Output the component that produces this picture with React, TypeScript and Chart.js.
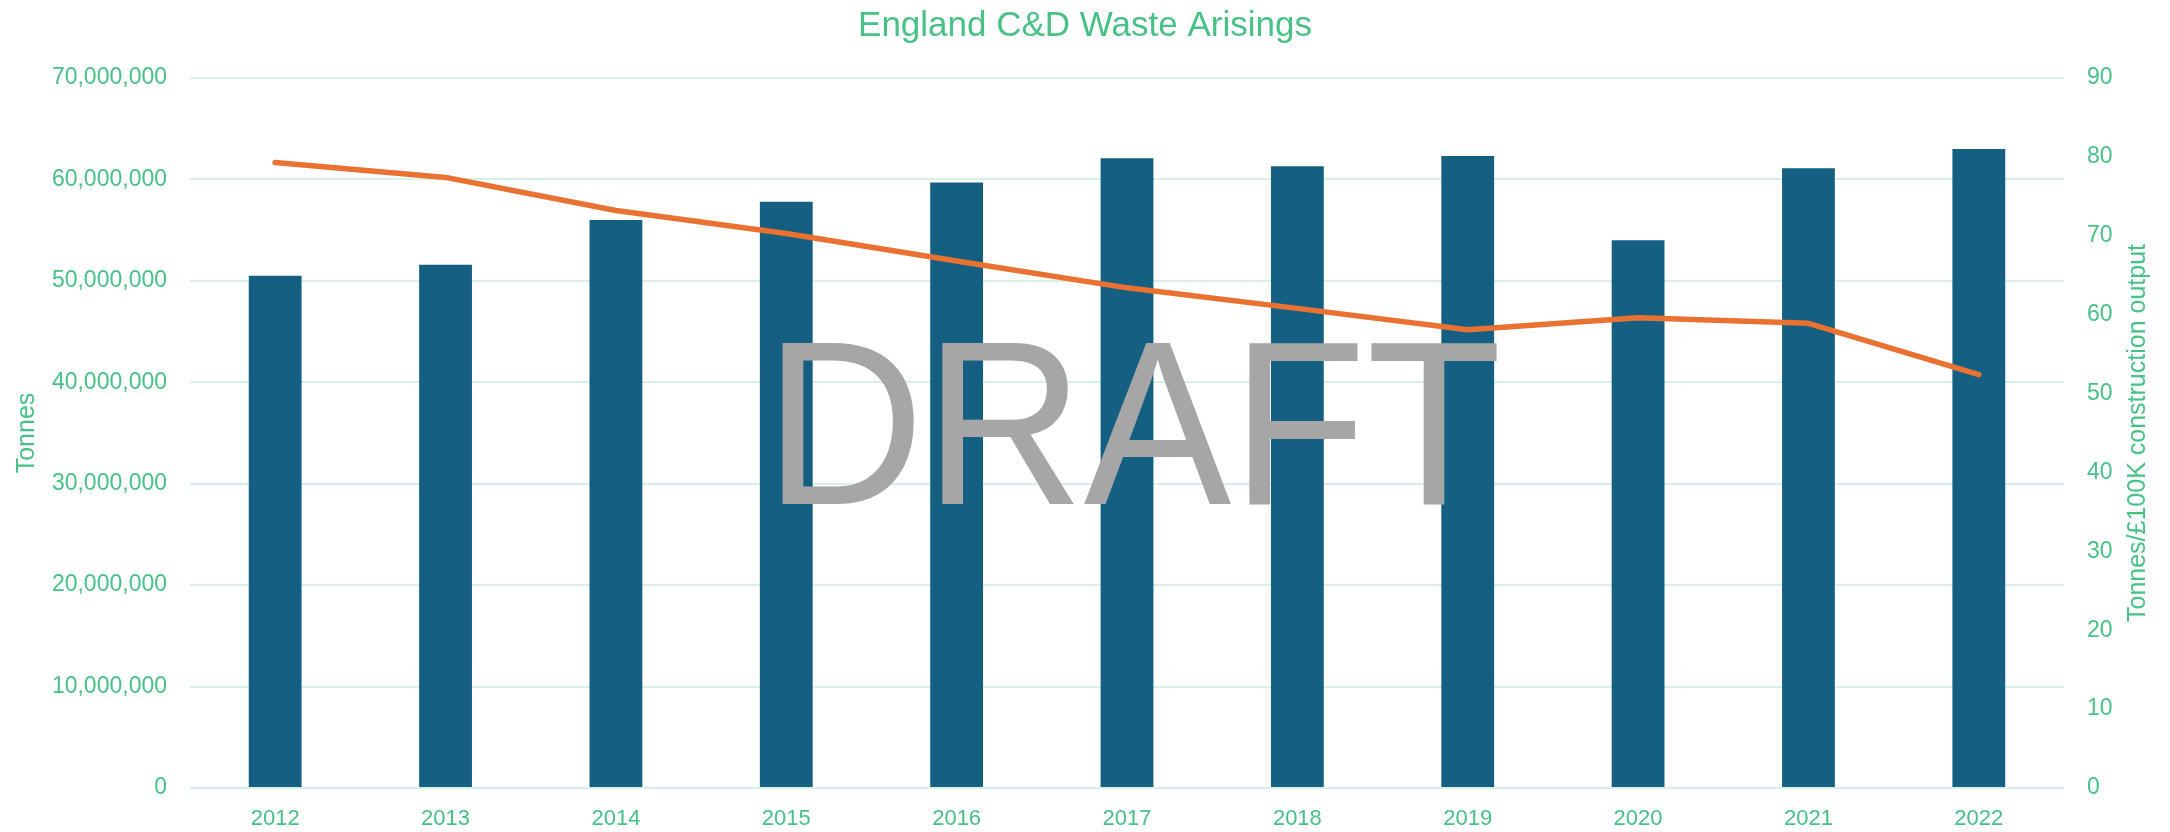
import { useEffect, useRef } from "react";
import { Chart, registerables } from "chart.js";

Chart.register(...registerables);

const years = ["2012", "2013", "2014", "2015", "2016", "2017", "2018", "2019", "2020", "2021", "2022"];
const wasteTonnes = [50500000, 51600000, 56000000, 57800000, 59700000, 62100000, 61300000, 62300000, 54000000, 61100000, 63000000];
const tonnesPer100k = [79.3, 77.4, 73.2, 70.3, 66.8, 63.4, 60.8, 58.1, 59.6, 58.9, 52.4];
const titleText = "England C&D Waste Arisings";
const leftAxisTitle = "Tonnes";
const rightAxisTitle = "Tonnes/£100K construction output";
const watermark = "DRAFT";

const GREEN = "#47c185";
const GRID = "#d7f1e5";
const BAR = "#156082";
const LINE = "#e97132";
const FONT = "'Liberation Sans', Arial, sans-serif";

export default function App() {
  const ref = useRef<HTMLCanvasElement | null>(null);

  useEffect(() => {
    document.body.style.margin = "0";
    const canvas = ref.current;
    if (!canvas) return;

    const overlay = {
      id: "overlay",
      afterDatasetsDraw(chart: any) {
        const ctx = chart.ctx as CanvasRenderingContext2D;
        const area = chart.chartArea;
        ctx.save();
        ctx.font = `233px ${FONT}`;
        ctx.fillStyle = "#a6a6a6";
        ctx.textAlign = "center";
        ctx.textBaseline = "alphabetic";
        const w = ctx.measureText(watermark).width;
        const sx = 737 / w;
        const cx = (area.left + area.right) / 2 + 6;
        const by = area.top + 426;
        ctx.translate(cx, by);
        ctx.scale(sx, 1);
        ctx.fillText(watermark, 0, 0);
        ctx.restore();
      },
      afterDraw(chart: any) {
        const ctx = chart.ctx as CanvasRenderingContext2D;
        const s = chart.scales.y1;
        ctx.save();
        ctx.font = `25px ${FONT}`;
        ctx.fillStyle = GREEN;
        ctx.textAlign = "center";
        ctx.textBaseline = "middle";
        ctx.translate(s.right - 32, (s.top + s.bottom) / 2);
        ctx.rotate(-Math.PI / 2);
        ctx.fillText(rightAxisTitle, 0, 0);
        ctx.restore();
      },
    };

    const chart = new Chart(canvas, {
      type: "bar",
      data: {
        labels: years,
        datasets: [
          {
            type: "line",
            label: "Tonnes/£100K construction output",
            data: tonnesPer100k,
            yAxisID: "y1",
            borderColor: LINE,
            backgroundColor: LINE,
            borderWidth: 5.5,
            pointRadius: 0,
            tension: 0,
            borderCapStyle: "round",
            borderJoinStyle: "round",
            order: 0,
          } as any,
          {
            type: "bar",
            label: "Tonnes",
            data: wasteTonnes,
            yAxisID: "y",
            backgroundColor: BAR,
            barPercentage: 0.31,
            categoryPercentage: 1,
            order: 1,
          },
        ],
      },
      options: {
        responsive: false,
        animation: false,
        layout: { padding: 0 },
        plugins: {
          legend: { display: false },
          tooltip: { enabled: false },
          title: {
            display: true,
            text: titleText,
            color: GREEN,
            font: { size: 35, family: FONT, weight: "normal" },
            padding: { top: 5.5, bottom: 30.5 },
          },
        },
        scales: {
          x: {
            grid: { display: false },
            border: { display: false },
            ticks: { color: GREEN, font: { size: 22, family: FONT }, padding: 10 },
            afterFit(scale: any) {
              scale.height = 44;
            },
          },
          y: {
            position: "left",
            min: 0,
            max: 70000000,
            ticks: {
              stepSize: 10000000,
              color: GREEN,
              font: { size: 23, family: FONT },
              padding: 23,
              callback: (v: any) => Number(v).toLocaleString("en-US"),
            },
            grid: { color: GRID, lineWidth: 2, drawTicks: false },
            border: { display: false },
            title: {
              display: true,
              text: leftAxisTitle,
              color: GREEN,
              font: { size: 25, family: FONT },
              padding: { top: 12, bottom: 0 },
            },
            afterFit(scale: any) {
              scale.width = 190;
            },
          },
          y1: {
            position: "right",
            min: 0,
            max: 90,
            ticks: {
              stepSize: 10,
              color: GREEN,
              font: { size: 23, family: FONT },
              padding: 23,
            },
            grid: { display: false, drawTicks: false },
            border: { display: false },
            afterFit(scale: any) {
              scale.width = 106;
            },
          },
        },
      },
      plugins: [overlay],
    });

    return () => chart.destroy();
  }, []);

  return (
    <div style={{ width: 2170, height: 832 }}>
      <canvas ref={ref} width={2170} height={832} style={{ display: "block" }} />
    </div>
  );
}
